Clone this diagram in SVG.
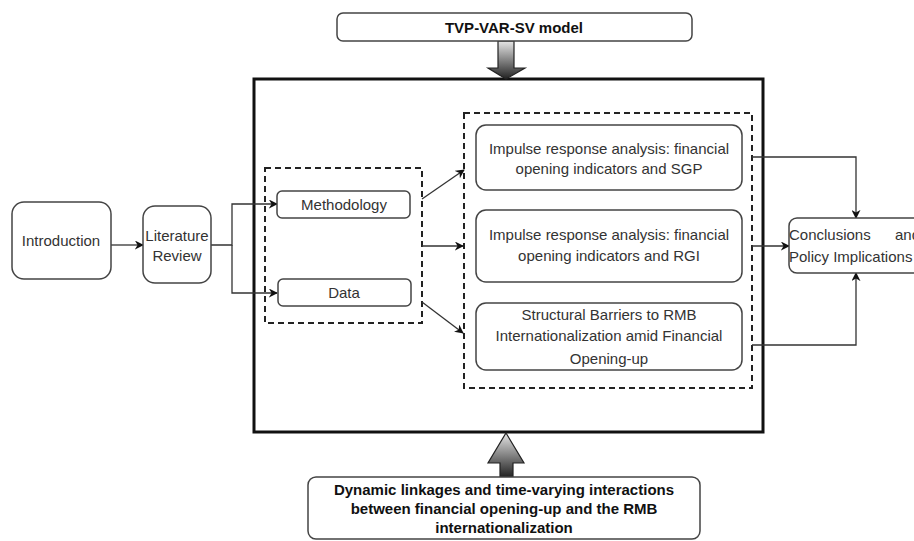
<svg xmlns="http://www.w3.org/2000/svg" width="914" height="541" viewBox="0 0 914 541">
  <style>
    .box { fill: #ffffff; stroke: #444444; stroke-width: 1.5; }
    .frame { fill: none; stroke: #111111; stroke-width: 3; }
    .dash { fill: none; stroke: #222222; stroke-width: 2; stroke-dasharray: 6 4; }
    .lbl { font-family: "Liberation Sans", Arial, sans-serif; font-size: 15px; fill: #333333; text-anchor: middle; }
    .bold { font-family: "Liberation Sans", Arial, sans-serif; font-size: 15px; font-weight: bold; fill: #111111; text-anchor: middle; }
    .wire { fill: none; stroke: #333333; stroke-width: 1.3; marker-end: url(#head); }
    .big { stroke: #222222; stroke-width: 1.2; fill: url(#shade); }
  </style>
  <defs>
    <marker id="head" viewBox="0 0 10 10" refX="9" refY="5" markerWidth="9" markerHeight="9" markerUnits="userSpaceOnUse" orient="auto">
      <path d="M0,0 L10,5 L0,10 L3,5 Z" fill="#111111"/>
    </marker>
    <linearGradient id="shade" x1="0" y1="0" x2="0" y2="1">
      <stop offset="0" stop-color="#e6e6e6"/>
      <stop offset="1" stop-color="#222222"/>
    </linearGradient>
  </defs>

  <!-- outer frame and grouping boxes -->
  <rect class="frame" x="254" y="79" width="509" height="353"/>
  <rect class="dash" x="265" y="168" width="157" height="155"/>
  <rect class="dash" x="464" y="113" width="288" height="275"/>

  <g id="connectors">
    <path class="wire" d="M111,245 L143,245"/>
    <path class="wire" d="M211,245 L232,245 L232,204 L277,204"/>
    <path class="wire" d="M232,245 L232,293 L277,293"/>
    <path class="wire" d="M422,199 L464,170"/>
    <path class="wire" d="M422,246 L463,246"/>
    <path class="wire" d="M422,302 L463,333"/>
    <path class="wire" d="M752,157 L856,157 L856,218"/>
    <path class="wire" d="M752,246 L789,246"/>
    <path class="wire" d="M752,345 L856,345 L856,273"/>
    <!-- block arrows feeding the frame -->
    <path class="big" d="M498,41 L514,41 L514,68 L525,68 L506,79 L488,68 L498,68 Z"/>
    <path class="big" d="M506,433 L524,463 L513,463 L513,477 L500,477 L500,463 L488,463 Z"/>
  </g>

  <g id="model">
    <rect class="box" x="337" y="13" width="355" height="28" rx="6"/>
    <text class="bold" x="514" y="33">TVP-VAR-SV model</text>
  </g>

  <g id="introduction">
    <rect class="box" x="12" y="202" width="99" height="77" rx="12"/>
    <text class="lbl" x="61" y="246">Introduction</text>
  </g>

  <g id="literature">
    <rect class="box" x="143" y="206" width="68" height="77" rx="12"/>
    <text class="lbl" x="177" y="241">Literature</text>
    <text class="lbl" x="177" y="261">Review</text>
  </g>

  <g id="methodology">
    <rect class="box" x="277" y="191" width="133" height="27" rx="5"/>
    <text class="lbl" x="344" y="210">Methodology</text>
  </g>

  <g id="data">
    <rect class="box" x="278" y="279" width="133" height="27" rx="5"/>
    <text class="lbl" x="344" y="298">Data</text>
  </g>

  <g id="irf-sgp">
    <rect class="box" x="476" y="125" width="266" height="65" rx="10"/>
    <text class="lbl" x="609" y="154">Impulse response analysis: financial</text>
    <text class="lbl" x="609" y="174">opening indicators and SGP</text>
  </g>

  <g id="irf-rgi">
    <rect class="box" x="476" y="210" width="266" height="72" rx="10"/>
    <text class="lbl" x="609" y="240">Impulse response analysis: financial</text>
    <text class="lbl" x="609" y="261">opening indicators and RGI</text>
  </g>

  <g id="barriers">
    <rect class="box" x="476" y="303" width="266" height="67" rx="10"/>
    <text class="lbl" x="609" y="320">Structural Barriers to RMB</text>
    <text class="lbl" x="609" y="341">Internationalization amid Financial</text>
    <text class="lbl" x="609" y="364">Opening-up</text>
  </g>

  <g id="conclusions">
    <rect class="box" x="789" y="218" width="140" height="55" rx="8"/>
    <text class="lbl" style="text-anchor:start" y="240"><tspan x="789">Conclusions</tspan><tspan x="895">and</tspan></text>
    <text class="lbl" style="text-anchor:start" x="789" y="262">Policy Implications</text>
  </g>

  <g id="linkages">
    <rect class="box" x="308" y="477" width="392" height="62" rx="8"/>
    <text class="bold" x="504" y="495">Dynamic linkages and time-varying interactions</text>
    <text class="bold" x="504" y="514">between financial opening-up and the RMB</text>
    <text class="bold" x="504" y="533">internationalization</text>
  </g>
</svg>
